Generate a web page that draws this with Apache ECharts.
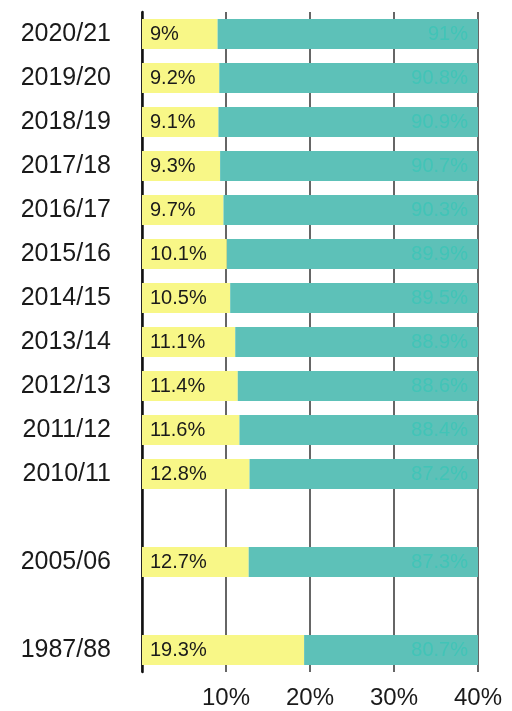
<!DOCTYPE html>
<html>
<head>
<meta charset="utf-8">
<script src="https://cdn.jsdelivr.net/npm/echarts@6/dist/echarts.min.js"></script>
<style>
html,body{margin:0;padding:0;background:#fff;}
#chart{width:512px;height:711px;}
</style>
</head>
<body>
<div id="chart"></div>
<script>
var categories = ['2020/21','2019/20','2018/19','2017/18','2016/17','2015/16','2014/15','2013/14','2012/13','2011/12','2010/11','','2005/06','','1987/88'];
var yellowValues = [9, 9.2, 9.1, 9.3, 9.7, 10.1, 10.5, 11.1, 11.4, 11.6, 12.8, null, 12.7, null, 19.3];
var tealValues = [91, 90.8, 90.9, 90.7, 90.3, 89.9, 89.5, 88.9, 88.6, 88.4, 87.2, null, 87.3, null, 80.7];
var xTicks = [0, 10, 20, 30, 40];

var chart = echarts.init(document.getElementById('chart'), null, {renderer: 'canvas'});
var font = '"Liberation Sans", Arial, sans-serif';
chart.setOption({
  animation: false,
  backgroundColor: '#ffffff',
  grid: {left: 142, right: 34, top: 12, bottom: 39, containLabel: false},
  xAxis: {
    type: 'value',
    min: xTicks[0],
    max: xTicks[xTicks.length - 1],
    interval: xTicks[1] - xTicks[0],
    axisLine: {show: false},
    axisTick: {show: false},
    splitLine: {show: true, lineStyle: {color: '#333', width: 1.5}},
    axisLabel: {
      showMinLabel: false,
      formatter: '{value}%',
      fontSize: 24, color: '#1a1a1a', fontFamily: font, margin: 14
    }
  },
  yAxis: {
    type: 'category',
    inverse: true,
    data: categories,
    axisLine: {show: true, lineStyle: {color: '#111', width: 2.5}},
    axisTick: {show: false},
    axisLabel: {fontSize: 25, color: '#1a1a1a', fontFamily: font, margin: 31}
  },
  series: [
    {
      name: 'yellow', type: 'bar', stack: 'total', data: yellowValues,
      barWidth: 30,
      itemStyle: {color: '#f8f787'},
      label: {show: true, position: 'insideLeft', distance: 8, formatter: function(p){return p.value + '%';},
        fontSize: 20, color: '#1a1a1a', fontFamily: font}
    },
    {
      name: 'teal', type: 'bar', stack: 'total', data: tealValues,
      barWidth: 30, clip: true,
      itemStyle: {color: '#5dc1b8'},
      label: {show: true, position: 'insideRight', distance: 10, formatter: function(p){return p.value + '%';},
        fontSize: 20, color: '#42c4b7', fontFamily: font}
    }
  ]
});
</script>
</body>
</html>
